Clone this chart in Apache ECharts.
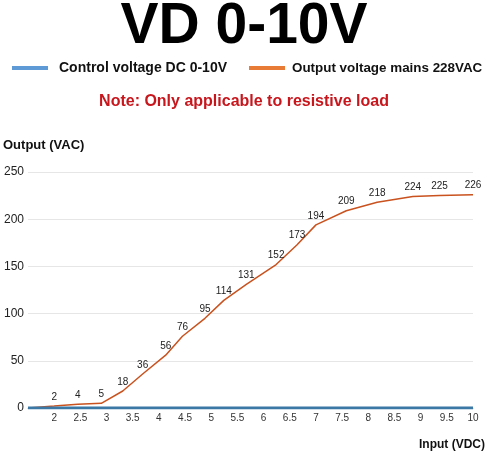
<!DOCTYPE html>
<html>
<head>
<meta charset="utf-8">
<script src="https://cdn.jsdelivr.net/npm/echarts@6/dist/echarts.min.js"></script>
<style>
html,body{margin:0;padding:0;background:#fff;}
#chart{width:488px;height:453px;}
</style>
</head>
<body>
<div id="chart"></div>
<script>
// Data
const inputVDC = [1.5, 2.0, 2.45, 2.9, 3.31, 3.69, 4.13, 4.45, 4.88, 5.24, 5.67, 6.24, 6.64, 7.0, 7.58, 8.17, 8.85, 9.36, 10];
const outputVAC = [0, 2, 4, 5, 18, 36, 56, 76, 95, 114, 131, 152, 173, 194, 209, 218, 224, 225, 226];
const controlX = [1.5, 10];
const controlV = [0, 0];
const seriesNames = ['Control voltage DC 0-10V', 'Output voltage mains 228VAC'];
const titleText = 'VD 0-10V';
const noteText = 'Note: Only applicable to resistive load';

const font = 'Liberation Sans, Arial, sans-serif';
const chart = echarts.init(document.getElementById('chart'));

const outData = inputVDC.map((x, i) => {
  const d = { value: [x, outputVAC[i]] };
  if (i === 0) d.label = { show: false };
  return d;
});
const ctrlData = controlX.map((x, i) => [x, controlV[i]]);

chart.setOption({
  animation: false,
  title: [
    { text: titleText, left: 'center', top: -6,
      textStyle: { fontSize: 57, fontWeight: 'bold', color: '#000', fontFamily: font } },
    { text: noteText, left: 'center', top: 89,
      textStyle: { fontSize: 16, fontWeight: 'bold', color: '#c8161d', fontFamily: font } }
  ],
  legend: {
    top: 61, left: 12, width: 480, padding: 0, itemWidth: 36, itemHeight: 4, itemGap: 22, icon: 'rect',
    textStyle: { fontSize: 14, fontWeight: 'bold', color: '#111', fontFamily: font },
    data: [
      { name: seriesNames[0], itemStyle: { color: '#5e9bd6' },
        textStyle: { fontSize: 14, padding: [0, 0, 0, 6] } },
      { name: seriesNames[1], itemStyle: { color: '#e87b36' },
        textStyle: { fontSize: 13.4, padding: [0, 0, 0, 2] } }
    ]
  },
  grid: { left: 25, right: 13, top: 172, bottom: 45 },
  xAxis: {
    type: 'value', min: 1.5, max: 10, interval: 0.5,
    name: 'Input (VDC)', nameLocation: 'end', nameGap: 12,
    nameTextStyle: { fontSize: 12, fontWeight: 'bold', color: '#111', fontFamily: font,
      align: 'right', verticalAlign: 'top', padding: [31, 0, 0, 0] },
    axisLine: { show: true, lineStyle: { color: '#bbb' } },
    axisTick: { show: false },
    splitLine: { show: false },
    axisLabel: { showMinLabel: false, fontSize: 10, color: '#333', fontFamily: font, margin: 5 }
  },
  yAxis: {
    type: 'value', min: 0, max: 250, interval: 50,
    name: 'Output (VAC)', nameLocation: 'end', nameGap: 20,
    nameTextStyle: { fontSize: 13, fontWeight: 'bold', color: '#111', fontFamily: font,
      align: 'left', padding: [0, 0, 0, -25] },
    axisLine: { show: false }, axisTick: { show: false },
    splitLine: { lineStyle: { color: '#e6e6e6', width: 1 } },
    axisLabel: { fontSize: 12, color: '#222', fontFamily: font, margin: 4 }
  },
  series: [
    { name: seriesNames[0], type: 'line', data: ctrlData, showSymbol: false, z: 5,
      lineStyle: { color: '#3b78a6', width: 3 }, itemStyle: { color: '#3b78a6' } },
    { name: seriesNames[1], type: 'line', data: outData, showSymbol: true, symbol: 'circle', symbolSize: 0.01, z: 4,
      lineStyle: { color: '#c9521e', width: 1.5 }, itemStyle: { color: '#c9521e' },
      label: { show: true, position: 'top', distance: 4, fontSize: 10, color: '#222', fontFamily: font,
        formatter: p => p.value[1] } }
  ]
});
</script>
</body>
</html>
